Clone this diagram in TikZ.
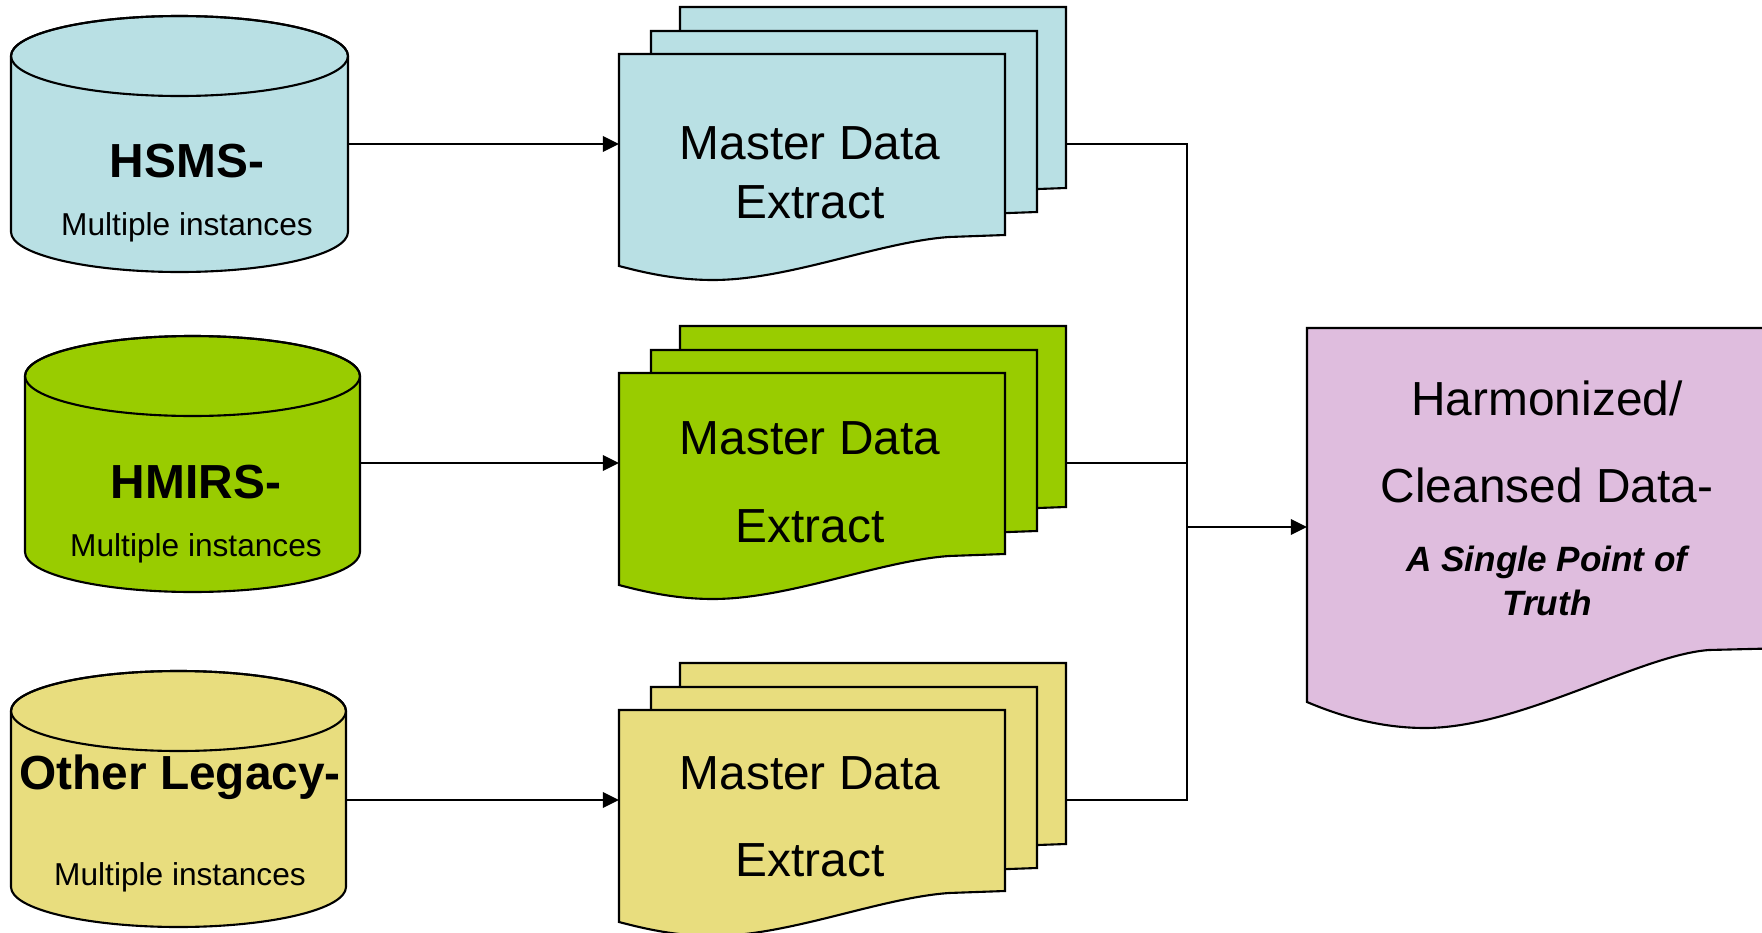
\documentclass[tikz,border=0pt]{standalone}
\usepackage{fontspec}
\setmainfont{Liberation Sans}
\usetikzlibrary{arrows.meta}

\definecolor{hsmsblue}{RGB}{185,224,228}
\definecolor{hmirsgreen}{RGB}{153,204,0}
\definecolor{legacyyellow}{RGB}{232,221,126}
\definecolor{cleanpink}{RGB}{223,189,222}

\tikzset{
  outline/.style = {draw = black, line width = 0.6pt},
  wire/.style = {line width = 0.6pt},
  link/.style = {wire, -{Triangle[length = 4.6pt, width = 4.4pt]}},
  srctitle/.style = {anchor = base, font = \fontsize{13.6}{16}\bfseries\selectfont},
  srcnote/.style = {anchor = base, font = \fontsize{9}{10.8}\selectfont},
  doctext/.style = {anchor = base, align = center, font = \fontsize{13.6}{16.5}\selectfont}
}

\begin{document}
\begin{tikzpicture}[x = 0.01cm, y = -0.01cm]

\useasboundingbox (0, 0) rectangle (1762, 933);

% one row per source: drum, stacked extract sheets, arrow
\foreach \src/\col/\xl/\xr/\tc/\bc/\tx/\ty/\ny/\dy/\my/\gap/\lbl in {
  hsms/hsmsblue/11/348/56/232/187/177/235/54/218/0/{HSMS-},
  hmirs/hmirsgreen/25/360/376/552/196/498/556/373/542/8.3/{HMIRS-},
  legacy/legacyyellow/11/346/711/887/180/789/885/710/876/8/{Other Legacy-}} {

  \filldraw[outline, fill = \col] (\xl, \tc) -- (\xl, \bc)
    arc[start angle = 180, end angle = 0, x radius = {(\xr - \xl) / 2}, y radius = 40]
    -- (\xr, \tc)
    arc[start angle = 0, end angle = -180, x radius = {(\xr - \xl) / 2}, y radius = 40] -- cycle;
  \draw[outline] ({(\xl + \xr) / 2}, \tc) ellipse [x radius = {(\xr - \xl) / 2}, y radius = 40];

  \node[srctitle] (\src-title) at (\tx, \ty) {\lbl};
  \node[srcnote] (\src-note) at (\tx, \ny) {Multiple instances};

  \foreach \sx/\sy in {61/-47, 32/-23, 0/0} {
    \filldraw[outline, fill = \col, shift = {(619 + \sx, \dy + \sy)}] (0, 0) -- (386, 0) -- (386, 181) -- (330, 183)
      .. controls (260, 188) and (170, 226) .. (94, 226)
      .. controls (60, 226) and (30, 220) .. (0, 212) -- cycle;
  }

  % base of a two-line node sits on its last line
  \node[doctext] (\src-doc) at (810, \my) {Master Data\\[\gap pt]Extract};

  \coordinate (\src-out) at (\xr, \dy + 90);
  \coordinate (\src-in) at (619, \dy + 90);
  \coordinate (\src-next) at (1066, \dy + 90);
  \draw[link] (\src-out) -- (\src-in);
}

% harmonized output, runs off the right edge
\begin{scope}
  \clip (0, 0) rectangle (1762, 933);
  \filldraw[outline, fill = cleanpink] (1307, 328) -- (1790, 328) -- (1790, 648) -- (1709, 650)
    .. controls (1640, 655) and (1520, 728) .. (1425, 728)
    .. controls (1380, 728) and (1340, 716) .. (1307, 702) -- cycle;
\end{scope}

\node[anchor = base, align = center, font = \fontsize{13.6}{16}\selectfont] (clean-title) at (1547, 502) {Harmonized/\\[8.5pt]Cleansed Data-};
\node[anchor = base, align = center, font = \fontsize{10}{12.5}\bfseries\itshape\selectfont] (clean-note) at (1547, 615) {A Single Point of\\Truth};

\coordinate (bus) at (1187, 527);
\coordinate (clean-in) at (1307, 527);

\draw[wire] (hsms-next) -| (bus) |- (legacy-next);
\draw[wire] (hmirs-next) -- (hmirs-next -| bus);
\draw[link] (bus) -- (clean-in);

\end{tikzpicture}
\end{document}
